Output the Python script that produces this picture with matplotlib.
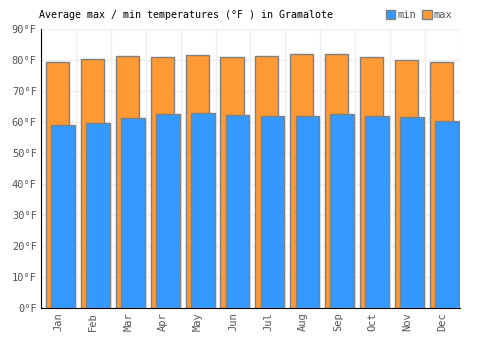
import matplotlib.pyplot as plt
import numpy as np
from matplotlib.patches import Patch

months = ['Jan', 'Feb', 'Mar', 'Apr', 'May', 'Jun',
          'Jul', 'Aug', 'Sep', 'Oct', 'Nov', 'Dec']
max_temp = [79.3, 80.2, 81.2, 80.9, 81.5, 80.9, 81.2, 81.8, 81.8, 80.9, 79.9, 79.3]
min_temp = [58.9, 59.6, 61.3, 62.6, 62.8, 62.2, 61.9, 61.9, 62.6, 61.9, 61.6, 60.2]

blue = '#3399ff'
orange = '#ff9933'
edge = '#808080'
font = 'DejaVu Sans Mono'

fig = plt.figure(figsize=(5, 3.5), dpi=100)
ax = fig.add_axes([0.082, 0.12, 0.838, 0.797])

x = np.arange(len(months))
ax.bar(x + 0.14, max_temp, 0.66, align='edge', color=orange, edgecolor=edge, linewidth=1, zorder=2)
ax.bar(x + 0.29, min_temp, 0.68, align='edge', color=blue, edgecolor=edge, linewidth=1, zorder=3)

ax.set_xlim(0, 12)
ax.set_ylim(0, 90)
ax.set_xticks(np.arange(0, 13), minor=False)
ax.set_xticks(x + 0.5, minor=True)
ax.set_xticklabels([''] * 13)
ax.set_xticklabels(months, minor=True, rotation=90, fontsize=7.5, family=font, color='#555555')
ax.set_yticks(np.arange(0, 91, 10))
ax.set_yticklabels([f'{v}°F' for v in range(0, 91, 10)], fontsize=7.5, family=font, color='#555555')
ax.tick_params(axis='both', which='both', length=0, pad=3)
ax.grid(True, which='major', color='#eeeeee', linewidth=1, zorder=0)
ax.set_axisbelow(True)
for s in ['top', 'right']:
    ax.spines[s].set_visible(False)
ax.spines['left'].set_color('black')
ax.spines['bottom'].set_color('black')

fig.text(0.078, 0.957, 'Average max / min temperatures (°F ) in Gramalote',
         fontsize=7.2, family=font, color='black', va='center')

handles = [Patch(facecolor=blue, edgecolor=edge), Patch(facecolor=orange, edgecolor=edge)]
leg = fig.legend(handles, ['min', 'max'], loc='center', bbox_to_anchor=(0.838, 0.957), ncol=2,
                 frameon=False, prop={'family': font, 'size': 7.5},
                 handlelength=0.9, handleheight=0.9, handletextpad=0.2, columnspacing=0.6)
for t in leg.get_texts():
    t.set_color('#555555')

fig.savefig('out.png', dpi=100)
